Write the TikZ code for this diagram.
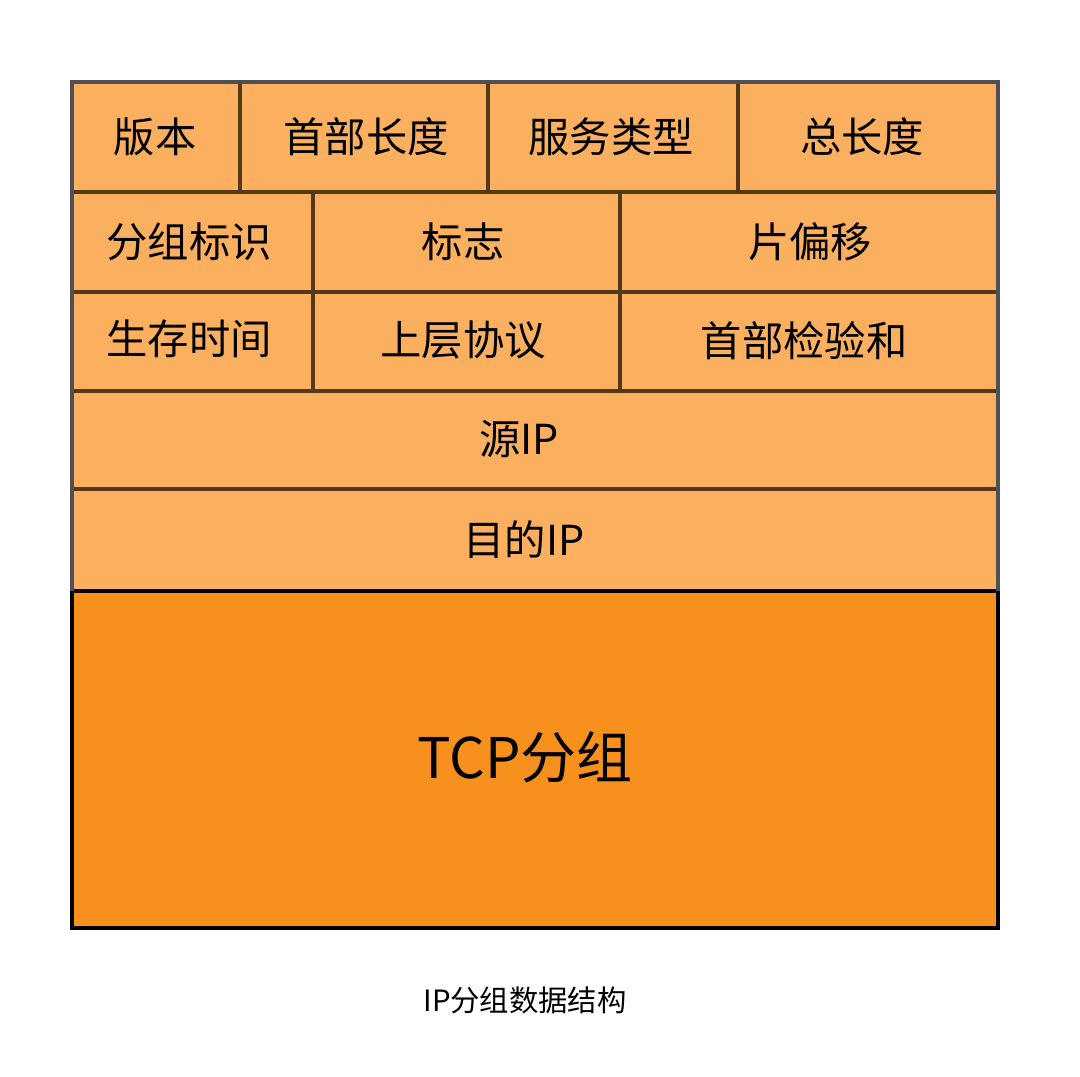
\documentclass[tikz,border=0pt]{standalone}
\usepackage{fontspec}
\setmainfont{Noto Sans CJK SC}
\usepackage{xcolor}
\usepackage{tikz}

\definecolor{headfill}{RGB}{251,176,95}
\definecolor{tcpfill}{RGB}{247,144,28}
\definecolor{gridline}{RGB}{84,56,24}
\definecolor{frameline}{RGB}{80,80,84}

\begin{document}
\begin{tikzpicture}[x=0.75pt,y=0.75pt,yscale=-1,xscale=1]
\useasboundingbox (0,0) rectangle (1080,1076);
\tikzset{
  field/.style={anchor=center,inner sep=0.75pt,font=\fontsize{31}{35}\selectfont},
  grid/.style={draw=gridline,line width=2.8pt}
}

%Shape: Rectangle [id:header]
\fill [headfill] (72,82) rectangle (998,591) ;
%Shape: Rectangle [id:payload]
\draw [fill=tcpfill,line width=2.8pt] (72,591) rectangle (998,928) ;

%Row lines
\draw [grid] (72,192) -- (998,192) ;
\draw [grid] (72,292) -- (998,292) ;
\draw [grid] (72,391) -- (998,391) ;
\draw [grid] (72,489) -- (998,489) ;
%Column lines
\draw [grid] (240,82) -- (240,192) ;
\draw [grid] (488,82) -- (488,192) ;
\draw [grid] (738,82) -- (738,192) ;
\draw [grid] (313,192) -- (313,391) ;
\draw [grid] (620,192) -- (620,391) ;
%Outer frame
\draw [draw=frameline,line width=2.8pt] (72,591) -- (72,82) -- (998,82) -- (998,591) ;

% Text Node
\draw (155,137) node [field] (ver) {版本};
% Text Node
\draw (366,137) node [field] (hlen) {首部长度};
% Text Node
\draw (611,137) node [field] (tos) {服务类型};
% Text Node
\draw (862,137) node [field] (tlen) {总长度};
% Text Node
\draw (189,242) node [field] (ident) {分组标识};
% Text Node
\draw (463,242) node [field] (flags) {标志};
% Text Node
\draw (810,242) node [field] (frag) {片偏移};
% Text Node
\draw (189,339) node [field] (ttl) {生存时间};
% Text Node
\draw (463,340) node [field] (proto) {上层协议};
% Text Node
\draw (804,341) node [field] (csum) {首部检验和};
% Text Node
\draw (519,439) node [field] (src) {源IP};
% Text Node
\draw (524,540) node [field] (dst) {目的IP};
% Text Node
\draw (525,757) node [anchor=center,inner sep=0.75pt,font=\fontsize{42}{48}\selectfont] (tcp) {TCP分组};
% Text Node
\draw (525,1000) node [anchor=center,inner sep=0.75pt,font=\fontsize{22}{26}\selectfont] (cap) {IP分组数据结构};

\end{tikzpicture}
\end{document}
